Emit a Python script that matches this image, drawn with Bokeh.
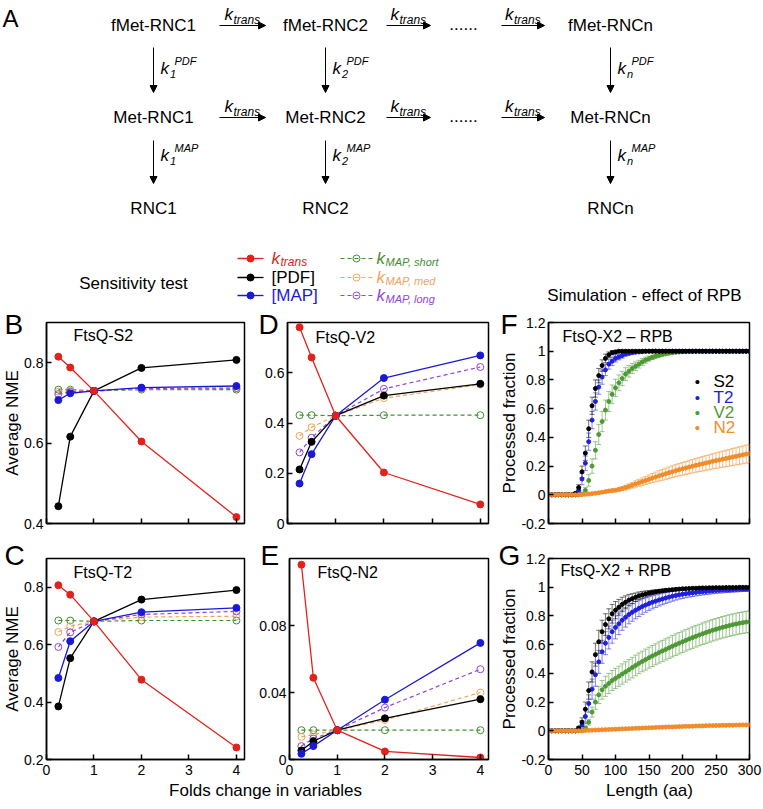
import math
from bokeh.plotting import figure
from bokeh.layouts import column, row
from bokeh.models import (Range1d, FixedTicker, Label, Arrow, NormalHead, Whisker,
                          TeeHead, ColumnDataSource, CustomJSTickFormatter, Title)
from bokeh.core.properties import value
from bokeh.embed import file_html
from bokeh.resources import INLINE

FONT = "Liberation Sans"

# ---------------- data: sensitivity tests ----------------
folds = [0.25, 0.5, 1, 2, 4]
fold_ticks = [0, 1, 2, 3, 4]

# B: FtsQ-S2
s2_ktrans = [0.815, 0.788, 0.730, 0.604, 0.416]
s2_pdf = [0.443, 0.616, 0.730, 0.787, 0.807]
s2_map = [0.707, 0.724, 0.730, 0.738, 0.742]
s2_short = [0.733, 0.733, 0.730, 0.733, 0.733]
s2_med = [0.728, 0.731, 0.730, 0.735, 0.736]
s2_long = [0.722, 0.728, 0.730, 0.736, 0.737]
# C: FtsQ-T2
t2_ktrans = [0.807, 0.774, 0.681, 0.478, 0.242]
t2_pdf = [0.385, 0.553, 0.681, 0.757, 0.790]
t2_map = [0.484, 0.612, 0.681, 0.713, 0.728]
t2_short = [0.684, 0.684, 0.681, 0.684, 0.684]
t2_med = [0.644, 0.664, 0.681, 0.696, 0.699]
t2_long = [0.592, 0.643, 0.681, 0.705, 0.716]
# D: FtsQ-V2
v2_ktrans = [0.781, 0.661, 0.429, 0.203, 0.076]
v2_pdf = [0.215, 0.325, 0.429, 0.509, 0.556]
v2_map = [0.159, 0.276, 0.429, 0.579, 0.669]
v2_short = [0.431, 0.431, 0.429, 0.431, 0.431]
v2_med = [0.349, 0.383, 0.429, 0.499, 0.553]
v2_long = [0.283, 0.341, 0.429, 0.536, 0.623]
# E: FtsQ-N2
n2_ktrans = [0.1163, 0.0488, 0.0175, 0.0048, 0.0012]
n2_pdf = [0.0054, 0.0109, 0.0175, 0.0246, 0.0360]
n2_map = [0.0034, 0.0080, 0.0175, 0.0357, 0.0696]
n2_short = [0.0175, 0.0175, 0.0175, 0.0175, 0.0175]
n2_med = [0.0135, 0.0149, 0.0175, 0.0236, 0.0400]
n2_long = [0.0080, 0.0125, 0.0175, 0.0310, 0.0539]

# ---------------- data: simulations ----------------
length_aa = list(range(0, 301, 5))
length_ticks = [0, 50, 100, 150, 200, 250, 300]
frac_ticks = [-0.2, 0, 0.2, 0.4, 0.6, 0.8, 1.0, 1.2]

# F: - RPB
f_s2 = [0, 0, 0, 0, 0, 0, 0, 0, 0.01, 0.05,
        0.16, 0.29, 0.46, 0.62, 0.74, 0.83, 0.90, 0.95, 0.975, 0.99,
        0.995, 1, 1, 1, 1, 1, 1, 1, 1, 1,
        1, 1, 1, 1, 1, 1, 1, 1, 1, 1,
        1, 1, 1, 1, 1, 1, 1, 1, 1, 1,
        1, 1, 1, 1, 1, 1, 1, 1, 1, 1,
        1]
f_s2_err = [0, 0, 0, 0, 0, 0, 0, 0, 0.005, 0.02,
            0.04, 0.05, 0.06, 0.06, 0.06, 0.05, 0.04, 0.03, 0.02, 0.015,
            0.01, 0.008, 0.006, 0.005, 0.004, 0.003, 0, 0, 0, 0,
            0, 0, 0, 0, 0, 0, 0, 0, 0, 0,
            0, 0, 0, 0, 0, 0, 0, 0, 0, 0,
            0, 0, 0, 0, 0, 0, 0, 0, 0, 0,
            0]
f_t2 = [0, 0, 0, 0, 0, 0, 0, 0, 0, 0.03,
        0.11, 0.22, 0.37, 0.52, 0.65, 0.75, 0.82, 0.87, 0.91, 0.93,
        0.95, 0.96, 0.97, 0.98, 0.985, 0.99, 0.993, 0.995, 0.997, 1,
        1, 1, 1, 1, 1, 1, 1, 1, 1, 1,
        1, 1, 1, 1, 1, 1, 1, 1, 1, 1,
        1, 1, 1, 1, 1, 1, 1, 1, 1, 1,
        1]
f_t2_err = [0, 0, 0, 0, 0, 0, 0, 0, 0, 0.02,
            0.04, 0.05, 0.06, 0.06, 0.06, 0.05, 0.05, 0.04, 0.035, 0.03,
            0.025, 0.02, 0.018, 0.015, 0.012, 0.01, 0.008, 0.006, 0.005, 0.004,
            0.003, 0.003, 0.002, 0.002, 0, 0, 0, 0, 0, 0,
            0, 0, 0, 0, 0, 0, 0, 0, 0, 0,
            0, 0, 0, 0, 0, 0, 0, 0, 0, 0,
            0]
f_v2 = [0, 0, 0, 0, 0, 0, 0, 0, 0, 0,
        0.005, 0.03, 0.10, 0.20, 0.31, 0.42, 0.51, 0.59, 0.65, 0.70,
        0.745, 0.78, 0.81, 0.84, 0.86, 0.88, 0.895, 0.91, 0.925, 0.938,
        0.948, 0.957, 0.965, 0.971, 0.977, 0.982, 0.986, 0.989, 0.992, 0.994,
        0.996, 0.997, 0.998, 0.999, 1, 1, 1, 1, 1, 1,
        1, 1, 1, 1, 1, 1, 1, 1, 1, 1,
        1]
f_v2_err = [0, 0, 0, 0, 0, 0, 0, 0, 0, 0,
            0.005, 0.02, 0.04, 0.05, 0.06, 0.07, 0.07, 0.07, 0.07, 0.065,
            0.06, 0.055, 0.05, 0.045, 0.04, 0.035, 0.03, 0.027, 0.024, 0.021,
            0.018, 0.015, 0.013, 0.011, 0.01, 0.008, 0.007, 0.006, 0.005, 0.004,
            0.003, 0.003, 0.002, 0.002, 0, 0, 0, 0, 0, 0,
            0, 0, 0, 0, 0, 0, 0, 0, 0, 0,
            0]
f_n2 = [0, 0, 0, 0, 0, 0, 0, 0, 0, 0,
        0.001, 0.003, 0.005, 0.008, 0.011, 0.014, 0.018, 0.022, 0.026, 0.029,
        0.032, 0.037, 0.043, 0.050, 0.058, 0.066, 0.075, 0.083, 0.092, 0.100,
        0.108, 0.116, 0.124, 0.132, 0.139, 0.147, 0.154, 0.161, 0.168, 0.175,
        0.181, 0.187, 0.193, 0.199, 0.205, 0.211, 0.216, 0.222, 0.227, 0.233,
        0.238, 0.243, 0.248, 0.253, 0.258, 0.263, 0.268, 0.273, 0.278, 0.283,
        0.288]
f_n2_err = [0, 0, 0, 0, 0, 0, 0, 0, 0, 0,
            0.001, 0.002, 0.003, 0.004, 0.005, 0.006, 0.007, 0.008, 0.009, 0.010,
            0.011, 0.012, 0.014, 0.016, 0.018, 0.020, 0.022, 0.024, 0.026, 0.028,
            0.030, 0.032, 0.034, 0.036, 0.038, 0.039, 0.040, 0.041, 0.042, 0.043,
            0.044, 0.045, 0.046, 0.047, 0.048, 0.049, 0.050, 0.051, 0.052, 0.053,
            0.054, 0.055, 0.056, 0.057, 0.058, 0.059, 0.060, 0.061, 0.062, 0.063,
            0.064]

# G: + RPB
g_s2 = [0, 0, 0, 0, 0, 0, 0, 0, 0, 0.02,
        0.06, 0.15, 0.28, 0.41, 0.53, 0.62, 0.69, 0.74, 0.78, 0.815,
        0.84, 0.86, 0.88, 0.895, 0.91, 0.92, 0.93, 0.94, 0.947, 0.953,
        0.959, 0.964, 0.968, 0.972, 0.975, 0.978, 0.981, 0.983, 0.985, 0.987,
        0.989, 0.99, 0.991, 0.992, 0.993, 0.994, 0.995, 0.995, 0.996, 0.996,
        0.997, 0.997, 0.997, 0.998, 0.998, 0.998, 0.998, 0.999, 0.999, 0.999,
        0.999]
g_s2_err = [0, 0, 0, 0, 0, 0, 0, 0, 0, 0.01,
            0.03, 0.05, 0.06, 0.07, 0.08, 0.08, 0.08, 0.075, 0.07, 0.065,
            0.06, 0.055, 0.05, 0.045, 0.04, 0.035, 0.03, 0.027, 0.024, 0.021,
            0.018, 0.016, 0.014, 0.012, 0.011, 0.01, 0.009, 0.008, 0.007, 0.007,
            0.006, 0.006, 0.005, 0.005, 0.005, 0.004, 0.004, 0.004, 0.004, 0.003,
            0.003, 0.003, 0.003, 0.003, 0.003, 0.003, 0.003, 0.003, 0.003, 0.003,
            0.003]
g_t2 = [0, 0, 0, 0, 0, 0, 0, 0, 0, 0.01,
        0.04, 0.10, 0.19, 0.29, 0.39, 0.48, 0.55, 0.61, 0.65, 0.69,
        0.72, 0.745, 0.77, 0.79, 0.81, 0.825, 0.84, 0.853, 0.865, 0.876,
        0.886, 0.895, 0.903, 0.911, 0.918, 0.925, 0.931, 0.937, 0.942, 0.947,
        0.951, 0.955, 0.958, 0.961, 0.964, 0.967, 0.969, 0.971, 0.973, 0.975,
        0.977, 0.978, 0.98, 0.981, 0.982, 0.983, 0.984, 0.985, 0.986, 0.986,
        0.987]
g_t2_err = [0, 0, 0, 0, 0, 0, 0, 0, 0, 0.01,
            0.03, 0.05, 0.06, 0.07, 0.08, 0.08, 0.08, 0.08, 0.08, 0.08,
            0.08, 0.075, 0.07, 0.068, 0.065, 0.062, 0.06, 0.057, 0.054, 0.051,
            0.048, 0.046, 0.044, 0.042, 0.04, 0.038, 0.036, 0.034, 0.032, 0.03,
            0.029, 0.028, 0.027, 0.026, 0.025, 0.024, 0.023, 0.022, 0.021, 0.02,
            0.02, 0.019, 0.019, 0.018, 0.018, 0.017, 0.017, 0.016, 0.016, 0.015,
            0.015]
g_v2 = [0, 0, 0, 0, 0, 0, 0, 0, 0, 0,
        0, 0.02, 0.06, 0.13, 0.20, 0.25, 0.285, 0.31, 0.33, 0.35,
        0.365, 0.38, 0.395, 0.41, 0.425, 0.44, 0.455, 0.47, 0.483, 0.496,
        0.509, 0.521, 0.533, 0.545, 0.556, 0.567, 0.578, 0.589, 0.60, 0.61,
        0.62, 0.63, 0.64, 0.649, 0.658, 0.667, 0.676, 0.684, 0.692, 0.70,
        0.707, 0.714, 0.721, 0.727, 0.733, 0.739, 0.744, 0.749, 0.753, 0.757,
        0.76]
g_v2_err = [0, 0, 0, 0, 0, 0, 0, 0, 0, 0,
            0, 0.01, 0.02, 0.035, 0.05, 0.06, 0.065, 0.07, 0.07, 0.07,
            0.07, 0.07, 0.071, 0.071, 0.071, 0.072, 0.072, 0.072, 0.072, 0.073,
            0.073, 0.073, 0.073, 0.074, 0.074, 0.074, 0.074, 0.075, 0.075, 0.075,
            0.075, 0.075, 0.075, 0.075, 0.075, 0.075, 0.075, 0.075, 0.075, 0.075,
            0.075, 0.075, 0.075, 0.075, 0.075, 0.075, 0.075, 0.075, 0.075, 0.075,
            0.075]
g_n2 = [0, 0, 0, 0, 0, 0, 0, 0, 0, 0,
        0.001, 0.002, 0.003, 0.004, 0.005, 0.006, 0.007, 0.008, 0.009, 0.010,
        0.011, 0.012, 0.013, 0.014, 0.015, 0.016, 0.017, 0.018, 0.019, 0.020,
        0.021, 0.022, 0.023, 0.024, 0.025, 0.026, 0.027, 0.027, 0.028, 0.029,
        0.030, 0.031, 0.031, 0.032, 0.033, 0.034, 0.034, 0.035, 0.036, 0.036,
        0.037, 0.037, 0.038, 0.038, 0.039, 0.039, 0.040, 0.040, 0.041, 0.041,
        0.042]
g_n2_err = [0, 0, 0, 0, 0, 0, 0, 0, 0, 0,
            0.001, 0.001, 0.002, 0.002, 0.002, 0.003, 0.003, 0.003, 0.003, 0.004,
            0.004, 0.004, 0.004, 0.004, 0.005, 0.005, 0.005, 0.005, 0.005, 0.005,
            0.005, 0.005, 0.005, 0.005, 0.005, 0.005, 0.005, 0.005, 0.005, 0.005,
            0.005, 0.005, 0.005, 0.005, 0.005, 0.005, 0.005, 0.005, 0.005, 0.005,
            0.005, 0.005, 0.005, 0.005, 0.005, 0.005, 0.005, 0.005, 0.005, 0.005,
            0.005]

# ---------------- colours ----------------
RED = "#e3211c"
BLACK = "#000000"
BLUE = "#1a1ad6"
GREEN_D = "#3f8f2f"
ORANGE_D = "#f2a35a"
PURPLE_D = "#8f45e0"
S_BLACK = "#000000"
S_BLUE = "#1f1fe0"
S_GREEN = "#4d9a35"
S_ORANGE = "#f28c28"

FMT = CustomJSTickFormatter(code="return String(Math.round(tick*1000)/1000);")


def make_panel(xr, yr, xticks, yticks, show_xlabels, w, h, bl, br, bt, bb):
    p = figure(width=w, height=h, x_range=Range1d(*xr), y_range=Range1d(*yr),
               output_backend="svg", toolbar_location=None,
               min_border_left=bl, min_border_right=br,
               min_border_top=bt, min_border_bottom=bb)
    p.xgrid.visible = False
    p.ygrid.visible = False
    p.outline_line_color = "black"
    p.outline_line_width = 1.5
    p.outline_line_alpha = 1.0
    p.border_fill_color = "white"
    p.background_fill_color = "white"
    for ax in (p.xaxis[0], p.yaxis[0]):
        ax.axis_line_color = "black"
        ax.axis_line_width = 1.5
        ax.major_tick_in = 5
        ax.major_tick_out = 0
        ax.major_tick_line_color = "black"
        ax.major_tick_line_width = 1.5
        ax.minor_tick_line_color = None
        ax.major_label_text_font = FONT
        ax.major_label_text_font_size = "14px"
        ax.major_label_text_color = "black"
        ax.major_label_standoff = 3
        ax.formatter = FMT
    p.xaxis[0].major_label_standoff = 5
    p.xaxis.ticker = FixedTicker(ticks=xticks)
    p.yaxis.ticker = FixedTicker(ticks=yticks)
    if not show_xlabels:
        p.xaxis.major_label_text_font_size = "1px"
        p.xaxis.major_label_text_color = None
        p.xaxis.major_label_standoff = 0
    return p


def add_label(p, x, y, text, size="16px", color="black", align="left"):
    p.add_layout(Label(x=x, y=y, x_units="screen", y_units="screen", text=text,
                       text_font=FONT, text_font_size=size, text_color=color,
                       text_align=align, text_baseline="middle"))


def panel_letter(p, letter, offset, standoff):
    p.title.text = letter
    p.title.align = "left"
    p.title.offset = offset
    p.title.standoff = standoff
    p.title.text_font = FONT
    p.title.text_font_size = "28px"
    p.title.text_font_style = "normal"
    p.title.text_color = "black"


def y_title(p, text):
    p.add_layout(Title(text=text, align="center", standoff=0, text_font=FONT,
                       text_font_size="17px", text_font_style="normal",
                       text_color="black"), "left")


def sens_series(p, ys, color, dashed):
    if dashed:
        p.line(folds, ys, line_color=color, line_width=1.2, line_dash="4 3")
        p.scatter(folds, ys, marker="circle", size=7, fill_color=None,
                  line_color=color, line_width=1)
    else:
        p.line(folds, ys, line_color=color, line_width=1.3)
        p.scatter(folds, ys, marker="circle", size=7, fill_color=color,
                  line_color=color)


def sens_panel(data, yr, yticks, show_x, w, h, bl, br, bt, bb):
    p = make_panel((0, 4.17), yr, fold_ticks, yticks, show_x, w, h, bl, br, bt, bb)
    ktr, pdf, mp, sh, md, lg = data
    sens_series(p, sh, GREEN_D, True)
    sens_series(p, md, ORANGE_D, True)
    sens_series(p, lg, PURPLE_D, True)
    sens_series(p, pdf, BLACK, False)
    sens_series(p, mp, BLUE, False)
    sens_series(p, ktr, RED, False)
    return p


def sim_series(p, ys, errs, color):
    xs = [x for x, e in zip(length_aa, errs) if e > 0]
    lo = [y - e for y, e in zip(ys, errs) if e > 0]
    hi = [y + e for y, e in zip(ys, errs) if e > 0]
    src = ColumnDataSource(dict(x=xs, lo=lo, hi=hi))
    p.add_layout(Whisker(source=src, base="x", lower="lo", upper="hi",
                         line_color=color, line_alpha=0.55, line_width=1,
                         upper_head=TeeHead(size=5, line_color=color, line_alpha=0.55, line_width=1),
                         lower_head=TeeHead(size=5, line_color=color, line_alpha=0.55, line_width=1)))
    p.scatter(length_aa, ys, marker="circle", size=4, fill_color=color, line_color=color)


def sim_panel(series, show_x, w, h, bl, br, bt, bb):
    p = make_panel((0, 300), (-0.2, 1.2), length_ticks, frac_ticks, show_x, w, h, bl, br, bt, bb)
    for ys, errs, color in series:
        sim_series(p, ys, errs, color)
    return p


# ---------------- geometry (page has no margin: window coords) ----------------
TOP_H = 306
H1, BT1, BB1 = 232, 16, 15     # row 1: y 306..538, frame 322..523
H2, BT2, BB2 = 243, 20, 22     # row 2: y 538..781, frame 558..759

pB = sens_panel((s2_ktrans, s2_pdf, s2_map, s2_short, s2_med, s2_long), (0.4, 0.9),
                [0.4, 0.6, 0.8], False, 256, H1, 43, 12, BT1, BB1)
pD = sens_panel((v2_ktrans, v2_pdf, v2_map, v2_short, v2_med, v2_long), (0, 0.8),
                [0, 0.2, 0.4, 0.6], False, 241, H1, 31, 9, BT1, BB1)
pF = sim_panel([(f_v2, f_v2_err, S_GREEN), (f_t2, f_t2_err, S_BLUE),
                (f_s2, f_s2_err, S_BLACK), (f_n2, f_n2_err, S_ORANGE)],
               False, 266, H1, 51, 14, BT1, BB1)
pC = sens_panel((t2_ktrans, t2_pdf, t2_map, t2_short, t2_med, t2_long), (0.2, 0.9),
                [0.2, 0.4, 0.6, 0.8], True, 256, H2, 43, 12, BT2, BB2)
pE = sens_panel((n2_ktrans, n2_pdf, n2_map, n2_short, n2_med, n2_long), (0, 0.12),
                [0, 0.04, 0.08], True, 241, H2, 31, 9, BT2, BB2)
pG = sim_panel([(g_v2, g_v2_err, S_GREEN), (g_t2, g_t2_err, S_BLUE),
                (g_s2, g_s2_err, S_BLACK), (g_n2, g_n2_err, S_ORANGE)],
               True, 266, H2, 51, 14, BT2, BB2)

# panel letters (as plot titles pushed into the left border)
panel_letter(pB, "B", -42, -34)
panel_letter(pD, "D", -29, -34)
panel_letter(pF, "F", -48, -34)
panel_letter(pC, "C", -42, -24)
panel_letter(pE, "E", -29, -24)
panel_letter(pG, "G", -50, -24)

# y-axis titles
y_title(pB, "Average NME")
y_title(pC, "Average NME")
y_title(pF, "Processed fraction")
y_title(pG, "Processed fraction")

# in-panel titles
add_label(pB, 27, 188, "FtsQ-S2")
add_label(pD, 28, 186, "FtsQ-V2")
add_label(pF, 14, 187, "FtsQ-X2  \u2013 RPB")
add_label(pC, 27, 187, "FtsQ-T2")
add_label(pE, 28, 187, "FtsQ-N2")
add_label(pG, 12, 189, "FtsQ-X2  + RPB")

# legend inside F
for name, col, yy in (("S2", S_BLACK, 142), ("T2", S_BLUE, 126),
                      ("V2", S_GREEN, 111), ("N2", S_ORANGE, 96)):
    add_label(pF, 149, yy, "\u2022", size="15px", color=col, align="center")
    add_label(pF, 165, yy, name, size="17px", color=col)

# ---------------- top canvas: scheme, legend, section titles ----------------
top = figure(width=763, height=TOP_H, x_range=Range1d(0, 763), y_range=Range1d(TOP_H, 0),
             x_axis_type=None, y_axis_type=None, output_backend="svg",
             toolbar_location=None, min_border=0, outline_line_color=None)


def txt(p, x, y, s, size=17, color="black", align="center", style="normal"):
    p.text(x=[x], y=[y], text=[s], text_font=value(FONT), text_font_size=f"{size}px",
           text_color=color, text_align=align, text_baseline="middle",
           text_font_style=style)


def kterm(p, x, y, sub, sup=None, color="black", ksize=17, ssize=11, sub_dx=9.5,
          sup_dx=14, sub_dy=5):
    txt(p, x, y, "k", size=ksize, color=color, align="left", style="italic")
    if sub:
        txt(p, x + sub_dx, y + sub_dy, sub, size=ssize, color=color, align="left", style="italic")
    if sup:
        txt(p, x + sup_dx, y - 8, sup, size=ssize, color=color, align="left", style="italic")


def arrow(p, x0, y0, x1, y1):
    p.add_layout(Arrow(end=NormalHead(size=7, fill_color="black", line_color="black"),
                       x_start=x0, y_start=y0, x_end=x1, y_end=y1,
                       line_color="black", line_width=1))


txt(top, 2, 18, "A", size=24, align="left")

cols = [153, 325, 610]
rows_y = [25, 117, 208]
names = [["fMet-RNC1", "fMet-RNC2", "fMet-RNCn"],
         ["Met-RNC1", "Met-RNC2", "Met-RNCn"],
         ["RNC1", "RNC2", "RNCn"]]
for r, ry in enumerate(rows_y):
    for c, cx in enumerate(cols):
        txt(top, cx, ry, names[r][c])

h_arrows = [(219, 265), (386, 430), (501, 544)]
for ry in rows_y[:2]:
    for (a0, a1) in h_arrows:
        arrow(top, a0, ry, a1, ry)
        kterm(top, (a0 + a1) / 2 - 18, ry - 11, "trans", ksize=17, ssize=12, sub_dx=9)
    txt(top, 463, ry - 2, "......")

subs = ["1", "2", "n"]
for c, cx in enumerate(cols):
    arrow(top, cx, 47, cx, 92)
    kterm(top, cx + 7, 68, subs[c], "PDF", ssize=11)
    arrow(top, cx, 140, cx, 183)
    kterm(top, cx + 7, 155, subs[c], "MAP", ssize=11)

txt(top, 133, 283, "Sensitivity test")
txt(top, 644, 295, "Simulation - effect of RPB")

# legend for sensitivity panels
for col, yy, lab in ((RED, 258, None), (BLACK, 277, "[PDF]"), (BLUE, 295, "[MAP]")):
    top.line([237, 263], [yy, yy], line_color=col, line_width=1.3)
    top.scatter([250], [yy], marker="circle", size=7, fill_color=col, line_color=col)
    if lab is None:
        kterm(top, 271, yy, "trans", color=col, ksize=17, ssize=12, sub_dx=9, sub_dy=3)
    else:
        txt(top, 271, yy, lab, color=col, align="left")
for col, yy, sub in ((GREEN_D, 258, "MAP, short"), (ORANGE_D, 277, "MAP, med"),
                     (PURPLE_D, 295, "MAP, long")):
    top.line([340, 372], [yy, yy], line_color=col, line_width=1.2, line_dash="4 3")
    top.scatter([356], [yy], marker="circle", size=7, fill_color=None, line_color=col)
    kterm(top, 376, yy, sub, color=col, ksize=17, ssize=11, sub_dx=9, sub_dy=3)

# ---------------- bottom strip: x-axis titles ----------------
bottom = figure(width=763, height=19, x_range=Range1d(0, 763), y_range=Range1d(800, 781),
                x_axis_type=None, y_axis_type=None, output_backend="svg",
                toolbar_location=None, min_border=0, outline_line_color=None)
txt(bottom, 265, 790, "Folds change in variables")
txt(bottom, 649, 790, "Length (aa)")

layout = column(top, row(pB, pD, pF), row(pC, pE, pG), bottom)

open("out.html", "w").write(file_html(layout, INLINE))
